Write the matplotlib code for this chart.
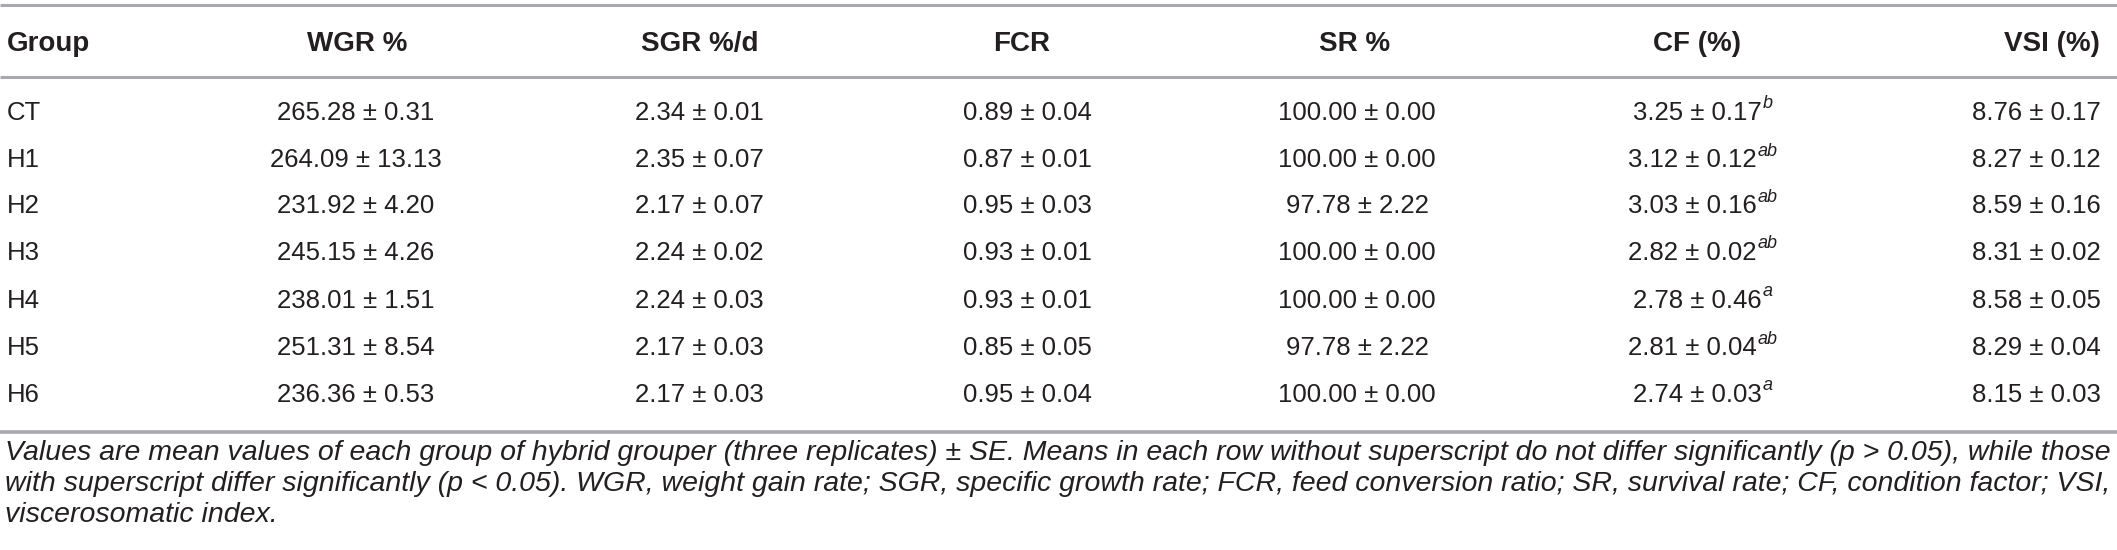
import matplotlib
matplotlib.use('agg')
import matplotlib.pyplot as plt

# table data (mean, SE)
groups = ['CT', 'H1', 'H2', 'H3', 'H4', 'H5', 'H6']
columns = ['Group', 'WGR %', 'SGR %/d', 'FCR', 'SR %', 'CF (%)', 'VSI (%)']
wgr_mean = [265.28, 264.09, 231.92, 245.15, 238.01, 251.31, 236.36]
wgr_se = [0.31, 13.13, 4.20, 4.26, 1.51, 8.54, 0.53]
sgr_mean = [2.34, 2.35, 2.17, 2.24, 2.24, 2.17, 2.17]
sgr_se = [0.01, 0.07, 0.07, 0.02, 0.03, 0.03, 0.03]
fcr_mean = [0.89, 0.87, 0.95, 0.93, 0.93, 0.85, 0.95]
fcr_se = [0.04, 0.01, 0.03, 0.01, 0.01, 0.05, 0.04]
sr_mean = [100.00, 100.00, 97.78, 100.00, 100.00, 97.78, 100.00]
sr_se = [0.00, 0.00, 2.22, 0.00, 0.00, 2.22, 0.00]
cf_mean = [3.25, 3.12, 3.03, 2.82, 2.78, 2.81, 2.74]
cf_se = [0.17, 0.12, 0.16, 0.02, 0.46, 0.04, 0.03]
cf_sig = ['b', 'ab', 'ab', 'ab', 'a', 'ab', 'a']
vsi_mean = [8.76, 8.27, 8.59, 8.31, 8.58, 8.29, 8.15]
vsi_se = [0.17, 0.12, 0.16, 0.02, 0.05, 0.04, 0.03]

caption = [
    "Values are mean values of each group of hybrid grouper (three replicates) \u00b1 SE. Means in each row without superscript do not differ significantly (p > 0.05), while those",
    "with superscript differ significantly (p < 0.05). WGR, weight gain rate; SGR, specific growth rate; FCR, feed conversion ratio; SR, survival rate; CF, condition factor; VSI,",
    "viscerosomatic index.",
]

W, H = 2117, 550
FONT = ['Liberation Sans', 'DejaVu Sans']
TXT = '#231f20'
RULE = '#a7a9ac'

fig = plt.figure(figsize=(W / 100, H / 100), dpi=100)
ax = fig.add_axes([0, 0, 1, 1])
ax.set_xlim(0, W)
ax.set_ylim(H, 0)
ax.axis('off')

col_x = [7, 356, 699, 1027, 1357, 1702, 2036]
head_x = [7, 357, 700, 1022, 1355, 1697, 2052]
head_y = 44
row_y = [113, 160, 206, 253, 301, 348, 395]
fs = 18.5
fs_head = 20
fs_cap = 20.5

# rules
for y, lw in [(5, 2.2), (77, 2.2), (432, 2.6)]:
    ax.plot([0, W], [y, y], color=RULE, lw=lw, solid_capstyle='butt')

# header
for i, name in enumerate(columns):
    ha = 'left' if i == 0 else 'center'
    ax.text(head_x[i], head_y, name, ha=ha, va='center', fontsize=fs_head,
            fontweight='bold', family=FONT, color=TXT)

fig.canvas.draw()
renderer = fig.canvas.get_renderer()

def fmt(m, s):
    return '%.2f \u00b1 %.2f' % (m, s)

series = [(wgr_mean, wgr_se), (sgr_mean, sgr_se), (fcr_mean, fcr_se),
          (sr_mean, sr_se), (cf_mean, cf_se), (vsi_mean, vsi_se)]

for r, g in enumerate(groups):
    y = row_y[r]
    ax.text(col_x[0], y, g, ha='left', va='center', fontsize=fs,
            family=FONT, color=TXT)
    for c, (m, s) in enumerate(series):
        x = col_x[c + 1]
        label = fmt(m[r], s[r])
        if c == 4:
            t = ax.text(0, y, label, ha='left', va='center', fontsize=fs,
                        family=FONT, color=TXT)
            sup = ax.text(0, y - 9, cf_sig[r], ha='left', va='center',
                          fontsize=fs * 0.7, style='italic', family=FONT,
                          color=TXT)
            wm = t.get_window_extent(renderer).width
            ws = sup.get_window_extent(renderer).width
            x0 = x - (wm + ws) / 2
            t.set_x(x0)
            sup.set_x(x0 + wm + 1)
        else:
            ax.text(x, y, label, ha='center', va='center', fontsize=fs,
                    family=FONT, color=TXT)

cap_y = [453, 484, 515]
for line, y in zip(caption, cap_y):
    ax.text(5, y, line, ha='left', va='center', fontsize=fs_cap, style='italic',
            family=FONT, color=TXT)

fig.savefig('out.png', dpi=100)
